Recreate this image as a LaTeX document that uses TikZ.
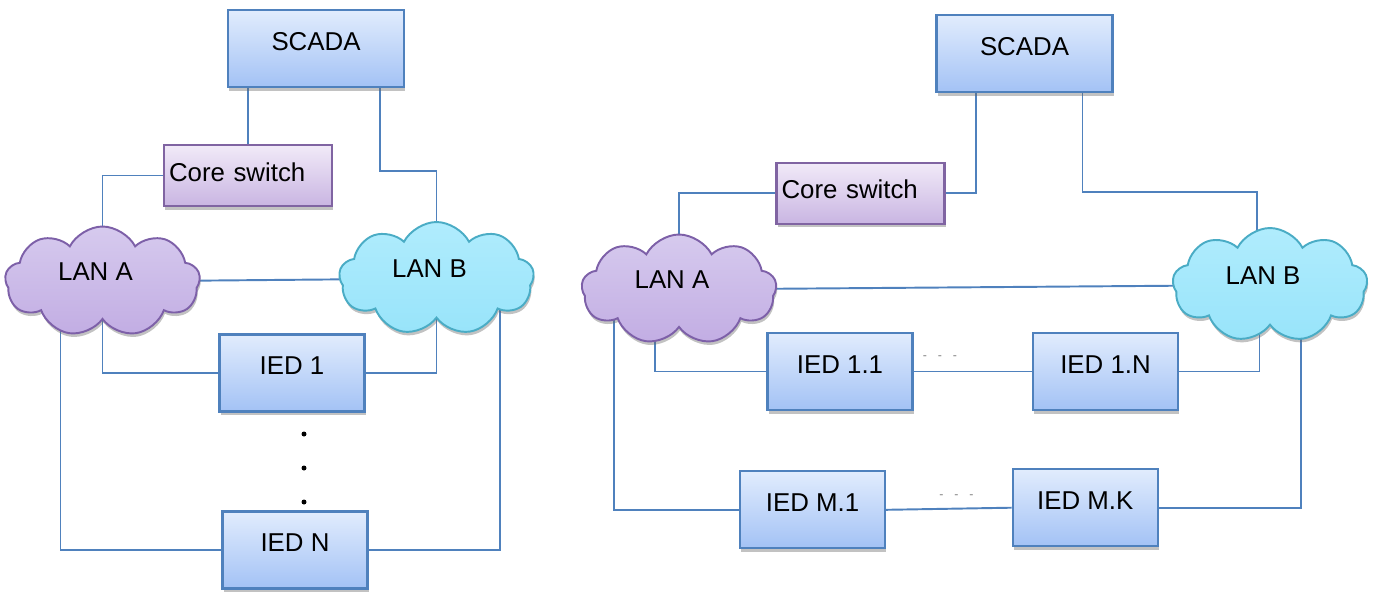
\documentclass[tikz,border=0pt]{standalone}
\usepackage{fontspec}
\setmainfont{Liberation Sans}
\usetikzlibrary{positioning, calc, backgrounds, shadows, shapes.symbols}

\definecolor{linkblue}{HTML}{4F81BD}
\definecolor{boxtop}{HTML}{E1ECFD}
\definecolor{boxbot}{HTML}{A3C2F5}
\definecolor{coretop}{HTML}{F1EAF8}
\definecolor{corebot}{HTML}{C9B5E2}
\definecolor{coreedge}{HTML}{8064A2}
\definecolor{lanatop}{HTML}{D6CAEE}
\definecolor{lanabot}{HTML}{C2ADE3}
\definecolor{lanaedge}{HTML}{7D60A8}
\definecolor{lanbtop}{HTML}{B0ECFD}
\definecolor{lanbbot}{HTML}{98E4FA}
\definecolor{lanbedge}{HTML}{4AACC5}

\tikzset{
  boxshadow/.style={drop shadow={shadow xshift=0.6pt, shadow yshift=-2pt,
      opacity=0.4, fill=black!60}},
  labelfont/.style={font=\fontsize{14.7}{17}\selectfont},
  devbox/.style={draw=linkblue, line width=1.3pt, top color=boxtop,
      bottom color=boxbot, boxshadow, labelfont, inner sep=0pt,
      text height=10.4pt, text depth=8.6pt, minimum height=1.54cm},
  scadabox/.style={devbox, minimum width=3.52cm},
  iedbox/.style={devbox, minimum width=2.9cm},
  corebox/.style={draw=coreedge, line width=1.3pt, top color=coretop,
      bottom color=corebot, boxshadow, labelfont, inner xsep=0.1cm,
      inner ysep=0pt, text width=3.16cm, align=left,
      text height=10.4pt, text depth=4pt, minimum height=1.22cm},
  lancloud/.style={cloud, cloud puffs=9, cloud puff arc=125,
      cloud ignores aspect, line width=1.1pt, boxshadow, labelfont,
      inner sep=0pt, text height=10.4pt, text depth=11.4pt,
      minimum width=3.9cm, minimum height=2.2cm},
  lanA/.style={lancloud, draw=lanaedge, top color=lanatop, bottom color=lanabot},
  lanB/.style={lancloud, draw=lanbedge, top color=lanbtop, bottom color=lanbbot},
  link/.style={draw=linkblue, line width=1.1pt},
  dotmark/.style={circle, fill=black, inner sep=0pt, minimum size=0.1cm},
  gapmark/.style={text=gray, font=\fontsize{7}{8}\selectfont, inner sep=0pt}
}

\begin{document}
\begin{tikzpicture}[x=0.02cm, y=-0.02cm]
\useasboundingbox (0,0) rectangle (1376,593);

% left: one IED per row
\node[scadabox] (scadaL) at (316,48.5) {SCADA};
\node[corebox] (coreL) at (248,175.5) {Core switch};
\node[lanA] (lanAL) at (102.5,281.5) {LAN A\kern8pt};
\node[lanB, minimum height=2.26cm] (lanBL) at (436.5,278.5) {LAN B\kern8pt};
\node[iedbox] (ied1L) at (292,373) {IED 1};
\node[iedbox] (iedNL) at (295,550) {IED N};

\foreach \y [count=\i] in {434,468,502}
  \node[dotmark] (dot\i) at (304,\y) {};

% right: IEDs chained in rows
\node[scadabox] (scadaR) at (1024.5,53.8) {SCADA};
\node[corebox] (coreR) at (860.5,193.3) {Core switch};
\node[lanA] (lanAR) at (679,289.5) {LAN A\kern8pt};
\node[lanB, minimum height=2.28cm] (lanBR) at (1270,285) {LAN B\kern8pt};
\node[iedbox] (ied11) at (840,371.5) {IED 1.1};
\node[iedbox] (ied1N) at (1105.5,371.5) {IED 1.N};
\node[iedbox] (iedM1) at (812.5,509.8) {IED M.1};
\node[iedbox] (iedMK) at (1085.2,507.7) {IED M.K};

\node[gapmark] (gap1) at (940,358) {-\hspace{6.2pt}-\hspace{6.2pt}-};
\node[gapmark] (gap2) at (956.5,497) {-\hspace{6.2pt}-\hspace{6.2pt}-};

\coordinate (kBL) at (436.5,171);
\coordinate (kBR) at (1257,192);

\begin{scope}[on background layer]
% left links
\draw[link] (coreL.north) -- (coreL.north |- scadaL.south);
\draw[link] ($(scadaL.south)+(64,0)$) |- (kBL) -- (kBL |- lanBL.center);
\draw[link] (coreL.west) -| (lanAL.center);
\draw[link] (lanAL.center) -- (lanBL.center);
\draw[link] (lanAL.center) |- (ied1L.west);
\draw[link] (ied1L.east) -| (lanBL.center);
\draw[link] (iedNL.west) -| ($(lanAL.center)+(-42,0)$);
\draw[link] (iedNL.east) -| ($(lanBL.center)+(63.5,0)$);
% right links
\draw[link] ($(scadaR.south)+(-48.5,0)$) |- (coreR.east);
\draw[link] ($(scadaR.south)+(58,0)$) |- (kBR) -- (kBR |- lanBR.center);
\draw[link] (coreR.west) -| (lanAR.center);
\draw[link] (lanAR.center) -- (lanBR.center);
\draw[link] (ied11.west) -| ($(lanAR.center)+(-24,0)$);
\draw[link] (ied11.east) -- (ied1N.west);
\draw[link] (ied1N.east) -| ($(lanBR.center)+(-10.5,0)$);
\draw[link] (iedM1.west) -| ($(lanAR.center)+(-65,0)$);
\draw[link] (iedM1.east) -- (iedMK.west);
\draw[link] (iedMK.east) -| ($(lanBR.center)+(31,0)$);
\end{scope}
\end{tikzpicture}
\end{document}
